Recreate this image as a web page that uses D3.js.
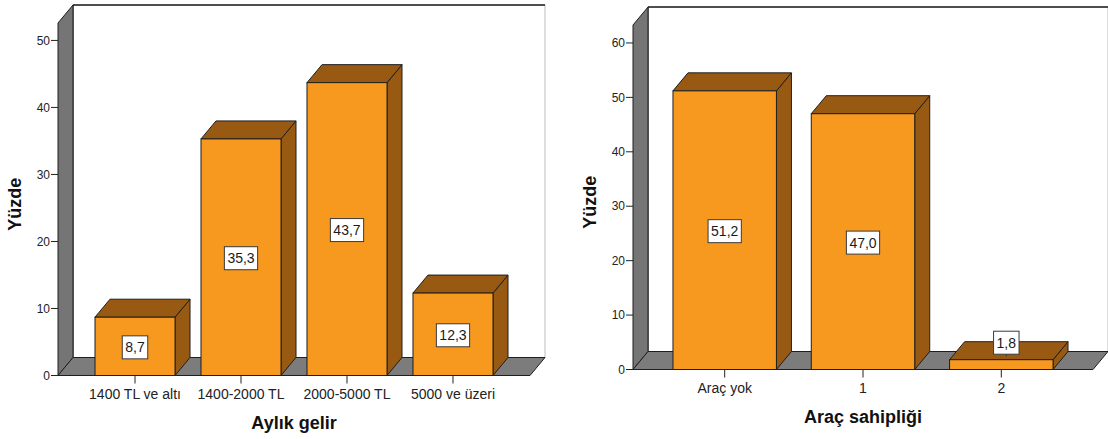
<!DOCTYPE html>
<html>
<head>
<meta charset="utf-8">
<script src="https://cdn.jsdelivr.net/npm/d3@7/dist/d3.min.js"></script>
<style>
  html, body { margin: 0; padding: 0; background: #fff; }
  svg { display: block; font-family: "Liberation Sans", Arial, sans-serif; }
</style>
</head>
<body>
<svg id="chart" width="1108" height="439"></svg>
<script>
// Monthly income distribution (percent)
const incomeCategories = ["1400 TL ve altı", "1400-2000 TL", "2000-5000 TL", "5000 ve üzeri"];
const incomeValues = [8.7, 35.3, 43.7, 12.3];
const incomeTicks = [0, 10, 20, 30, 40, 50];

// Vehicle ownership distribution (percent)
const carCategories = ["Araç yok", "1", "2"];
const carValues = [51.2, 47.0, 1.8];
const carTicks = [0, 10, 20, 30, 40, 50, 60];

const yTitle = "Yüzde";

const svg = d3.select("#chart");

const FRONT = "#F8991F";
const DARK = "#985A13";
const WALL = "#757575";
const FLOOR = "#7c7c7c";
const EDGE = "#1e1e1e";
const DEPTH_X = 15, DEPTH_Y = 18;

const fmt = v => d3.format(".1f")(v).replace(".", ",");

function drawChart(opt) {
  const { categories, values, ticks, title, left, right, base, top, yMax, padInner, padOuter } = opt;
  const g = svg.append("g");

  const x = d3.scaleBand().domain(categories).range([left, right])
    .paddingInner(padInner).paddingOuter(padOuter);
  const y = d3.scaleLinear().domain([0, yMax]).range([base, top]);

  const dx = DEPTH_X, dy = DEPTH_Y;
  const line = d3.line();

  // back wall
  g.append("rect")
    .attr("x", left + dx).attr("y", top - dy)
    .attr("width", right - left).attr("height", base - top)
    .attr("fill", "#fff").attr("stroke", "#bdbdbd").attr("stroke-width", 1);
  g.append("line")
    .attr("x1", left + dx).attr("x2", right + dx)
    .attr("y1", top - dy).attr("y2", top - dy)
    .attr("stroke", EDGE).attr("stroke-width", 1.5);
  g.append("line")
    .attr("x1", left + dx).attr("x2", left + dx)
    .attr("y1", top - dy).attr("y2", base - dy)
    .attr("stroke", EDGE).attr("stroke-width", 1);

  // left side wall
  g.append("path")
    .attr("d", line([[left, top], [left + dx, top - dy], [left + dx, base - dy], [left, base]]) + "Z")
    .attr("fill", WALL).attr("stroke", EDGE).attr("stroke-width", 1).attr("stroke-linejoin", "round");

  // floor
  g.append("path")
    .attr("d", line([[left, base], [left + dx, base - dy], [right + dx, base - dy], [right, base]]) + "Z")
    .attr("fill", FLOOR).attr("stroke", EDGE).attr("stroke-width", 1).attr("stroke-linejoin", "round");

  // y axis ticks on the front edge of the side wall
  const yAxis = g.append("g");
  ticks.forEach(t => {
    yAxis.append("line")
      .attr("x1", left - 7).attr("x2", left)
      .attr("y1", y(t)).attr("y2", y(t))
      .attr("stroke", "#222").attr("stroke-width", 1);
    yAxis.append("text")
      .attr("x", left - 8).attr("y", y(t))
      .attr("dy", "0.35em")
      .attr("text-anchor", "end")
      .attr("font-size", 12).attr("fill", "#222")
      .text(t);
  });

  // bars
  const w = x.bandwidth();
  const bars = g.selectAll("g.bar").data(categories.map((c, i) => ({ c, v: values[i] })))
    .join("g").attr("class", "bar");

  bars.append("path") // side face
    .attr("d", d => {
      const x0 = x(d.c), yv = y(d.v);
      return line([[x0 + w, yv], [x0 + w + dx, yv - dy], [x0 + w + dx, base - dy], [x0 + w, base]]) + "Z";
    })
    .attr("fill", DARK).attr("stroke", EDGE).attr("stroke-width", 1).attr("stroke-linejoin", "round");

  bars.append("path") // top face
    .attr("d", d => {
      const x0 = x(d.c), yv = y(d.v);
      return line([[x0, yv], [x0 + dx, yv - dy], [x0 + w + dx, yv - dy], [x0 + w, yv]]) + "Z";
    })
    .attr("fill", DARK).attr("stroke", EDGE).attr("stroke-width", 1).attr("stroke-linejoin", "round");

  bars.append("rect") // front face
    .attr("x", d => x(d.c)).attr("y", d => y(d.v))
    .attr("width", w).attr("height", d => base - y(d.v))
    .attr("fill", FRONT).attr("stroke", EDGE).attr("stroke-width", 1);

  // value labels
  const boxH = 23;
  bars.each(function (d) {
    const grp = d3.select(this);
    const cx = x(d.c) + w / 2;
    const h = base - y(d.v);
    let lx, ly;
    if (h > boxH + 6) {
      lx = cx; ly = (y(d.v) + base) / 2 + 1;
    } else {
      // too short: put the label on the top face with a small leader
      const topCx = cx + dx / 3, topCy = y(d.v) - dy / 2;
      lx = topCx; ly = topCy - boxH / 2 + 3.5;
      grp.append("line")
        .attr("x1", topCx).attr("x2", topCx)
        .attr("y1", ly + boxH / 2).attr("y2", ly + boxH / 2 + 2)
        .attr("stroke", "#333").attr("stroke-width", 1);
    }
    const txt = grp.append("text")
      .attr("x", lx).attr("y", ly)
      .attr("dy", "0.36em")
      .attr("text-anchor", "middle")
      .attr("font-size", 14).attr("fill", "#1a1a1a")
      .text(fmt(d.v));
    const tw = txt.node().getComputedTextLength();
    grp.insert("rect", "text")
      .attr("x", lx - tw / 2 - 3).attr("y", ly - boxH / 2)
      .attr("width", tw + 6).attr("height", boxH)
      .attr("fill", "#fff").attr("stroke", "#3a3a3a").attr("stroke-width", 1);
  });

  // x axis ticks and labels
  const xAxis = g.append("g");
  categories.forEach(c => {
    const cx = x(c) + w / 2;
    xAxis.append("line")
      .attr("x1", cx).attr("x2", cx)
      .attr("y1", base).attr("y2", base + 8)
      .attr("stroke", "#222").attr("stroke-width", 1);
    xAxis.append("text")
      .attr("x", cx).attr("y", base + 23)
      .attr("text-anchor", "middle")
      .attr("font-size", 14).attr("fill", "#222")
      .text(c);
  });

  // axis titles
  g.append("text")
    .attr("x", (left + right) / 2).attr("y", base + 53)
    .attr("text-anchor", "middle")
    .attr("font-size", 18).attr("font-weight", "bold").attr("fill", "#111")
    .text(title);

  g.append("text")
    .attr("transform", `translate(${left - 37},${(top + base) / 2 + 5}) rotate(-90)`)
    .attr("text-anchor", "middle")
    .attr("font-size", 18).attr("font-weight", "bold").attr("fill", "#111")
    .text(yTitle);
}

drawChart({
  categories: incomeCategories, values: incomeValues, ticks: incomeTicks,
  title: "Aylık gelir",
  left: 58, right: 530, base: 375.5, top: 23, yMax: 52.6,
  padInner: 0.245, padOuter: 0.349
});

drawChart({
  categories: carCategories, values: carValues, ticks: carTicks,
  title: "Araç sahipliği",
  left: 633, right: 1093, base: 369.5, top: 25, yMax: 63.3,
  padInner: 0.252, padOuter: 0.289
});
</script>
</body>
</html>
